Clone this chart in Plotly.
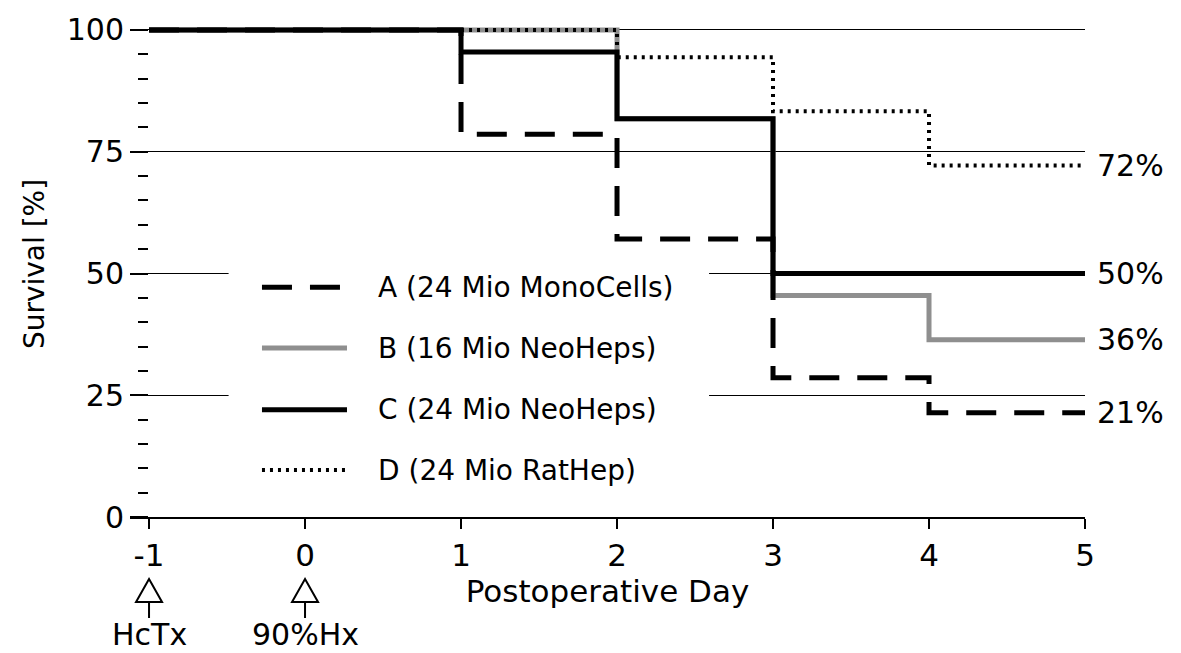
import plotly.graph_objects as go

# ---- data ----
days = [-1, 0, 1, 2, 3, 4, 5]
surv_A = [100, 100, 78.6, 57.1, 28.6, 21.4, 21.4]
surv_B = [100, 100, 100, 81.8, 45.5, 36.4, 36.4]
surv_C = [100, 100, 95.5, 81.8, 50.0, 50.0, 50.0]
surv_D = [100, 100, 100, 94.4, 83.3, 72.2, 72.2]
names = ["A (24 Mio MonoCells)", "B (16 Mio NeoHeps)", "C (24 Mio NeoHeps)", "D (24 Mio RatHep)"]
x_ticks = [-1, 0, 1, 2, 3, 4, 5]
y_ticks = [0, 25, 50, 75, 100]
event_days = [-1, 0]
event_labels = ["HcTx", "90%Hx"]

FONT = "DejaVu Sans, Liberation Sans, Arial, sans-serif"
styles = {
    "A": dict(color="black", width=5, dash="30px,18px"),
    "B": dict(color="#8f8f8f", width=5, dash="solid"),
    "C": dict(color="black", width=5, dash="solid"),
    "D": dict(color="black", width=4, dash="3px,5px"),
}
series = {"A": surv_A, "B": surv_B, "C": surv_C, "D": surv_D}
label_of = dict(zip(["A", "B", "C", "D"], names))

fig = go.Figure()
for key in ["B", "D", "A", "C"]:
    fig.add_trace(go.Scatter(
        x=days, y=series[key], mode="lines", line_shape="hv",
        line=styles[key], name=label_of[key], showlegend=False,
        hoverinfo="skip"))

# end labels
for key in ["D", "C", "B", "A"]:
    v = series[key][-1]
    fig.add_annotation(x=days[-1], y=v, text=f"{round(v)}%", showarrow=False,
                       xanchor="left", yanchor="middle", xshift=10,
                       font=dict(family=FONT, size=30, color="black"))

# manual legend (white box over gridlines)
leg_x0, leg_x1, leg_tx = -0.276, 0.269, 0.455
leg_rows = [47.2, 34.7, 22.0, 9.65]
fig.add_shape(type="rect", x0=-0.49, x1=2.59, y0=3, y1=55, xref="x", yref="y",
              fillcolor="white", line=dict(width=0), layer="between")
for key, yy in zip(["A", "B", "C", "D"], leg_rows):
    st = styles[key]
    fig.add_shape(type="line", x0=leg_x0, x1=leg_x1, y0=yy, y1=yy, xref="x", yref="y",
                  line=dict(color=st["color"], width=st["width"], dash=st["dash"]))
    fig.add_annotation(x=leg_tx, y=yy, text=label_of[key], showarrow=False,
                       xanchor="left", yanchor="middle",
                       font=dict(family=FONT, size=28, color="black"))

# event arrows below the axis
for d, lab in zip(event_days, event_labels):
    fig.add_shape(type="path", xref="x", yref="paper", xsizemode="pixel", ysizemode="pixel",
                  xanchor=d, yanchor=0,
                  path="M 0 -62 L 13 -85 L -13 -85 Z M 0 -85 L 0 -101",
                  line=dict(color="black", width=2), fillcolor="rgba(0,0,0,0)")
    fig.add_annotation(x=d, y=0, yref="paper", text=lab, showarrow=False, xanchor="center",
                       yanchor="middle", yshift=-117,
                       font=dict(family=FONT, size=30, color="black"))

fig.update_layout(
    width=1181, height=653,
    margin=dict(l=130, r=96, t=11, b=136),
    plot_bgcolor="white", paper_bgcolor="white",
    font=dict(family=FONT, size=28, color="black"),
    showlegend=False,
)
fig.update_xaxes(
    range=[-1.122, 5], tickvals=x_ticks, ticktext=[str(t) for t in x_ticks],
    showgrid=False, zeroline=False, showline=True, linecolor="black", linewidth=2,
    ticks="outside", ticklen=10, tickwidth=1.5, tickcolor="black",
    tickfont=dict(family=FONT, size=31),
    title=dict(text="Postoperative Day", font=dict(family=FONT, size=31), standoff=0),
)
fig.update_yaxes(
    range=[0, 103.9], tickvals=y_ticks, ticktext=[str(t) for t in y_ticks],
    anchor="free", position=18 / 955,
    showgrid=True, gridcolor="black", gridwidth=1, zeroline=False, showline=False,
    ticks="outside", ticklen=18, tickwidth=2, tickcolor="black",
    minor=dict(dtick=5, ticks="outside", ticklen=10, tickwidth=2, tickcolor="black",
               showgrid=False),
    tickfont=dict(family=FONT, size=30),
    title=dict(text="Survival [%]", font=dict(family=FONT, size=28), standoff=12),
)

fig.write_html("out.html")
